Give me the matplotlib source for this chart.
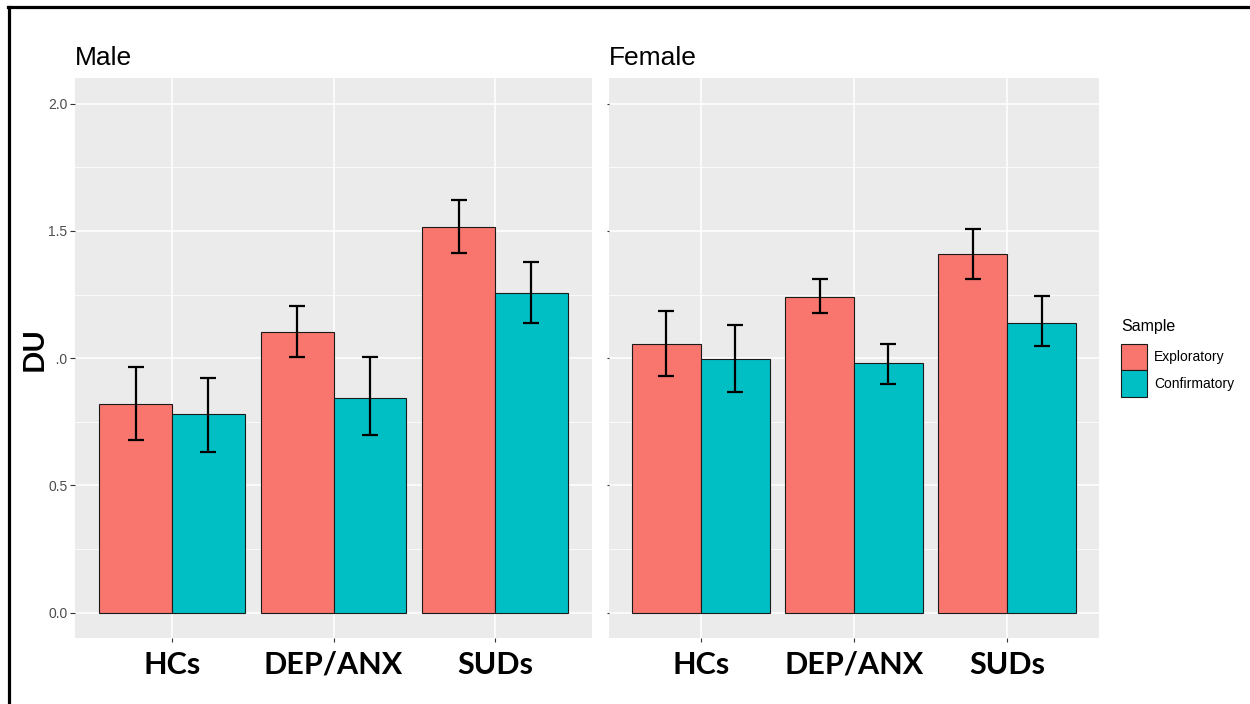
import numpy as np
import matplotlib
matplotlib.use('Agg')
import matplotlib.pyplot as plt
from matplotlib.patches import Patch
from matplotlib.lines import Line2D

# values (DU, mean with CI bounds)
categories = ['HCs', 'DEP/ANX', 'SUDs']

male_expl = [0.821, 1.102, 1.514]
male_expl_lo = [0.680, 1.004, 1.413]
male_expl_hi = [0.966, 1.204, 1.620]
male_conf = [0.779, 0.845, 1.256]
male_conf_lo = [0.633, 0.696, 1.137]
male_conf_hi = [0.923, 1.005, 1.379]

female_expl = [1.056, 1.241, 1.408]
female_expl_lo = [0.929, 1.178, 1.310]
female_expl_hi = [1.187, 1.310, 1.509]
female_conf = [0.998, 0.979, 1.140]
female_conf_lo = [0.868, 0.900, 1.048]
female_conf_hi = [1.129, 1.057, 1.243]

y_ticks = [0.0, 0.5, 1.0, 1.5, 2.0]
y_tick_labels = ['0.0', '0.5', '1.0', '1.5', '2.0']

EXPL_COLOR = '#F8766D'
CONF_COLOR = '#00BFC4'
PANEL_BG = '#EBEBEB'
EDGE = '#1a1a1a'

plt.rcParams['font.family'] = ['Liberation Sans', 'DejaVu Sans']

W, H = 1250, 704
fig = plt.figure(figsize=(W / 100, H / 100), dpi=100)
fig.patch.set_facecolor('white')

panel_bottom = 1 - 638 / H
panel_height = (638 - 78.3) / H
ax_m = fig.add_axes([75 / W, panel_bottom, 517 / W, panel_height])
ax_f = fig.add_axes([609 / W, panel_bottom, 490 / W, panel_height])


def draw_panel(ax, title, expl, expl_lo, expl_hi, conf, conf_lo, conf_hi,
               capsize, tick_len, show_ylabels):
    x = np.arange(1, len(categories) + 1)
    w = 0.45
    ax.set_facecolor(PANEL_BG)
    ax.bar(x - w / 2, expl, w, color=EXPL_COLOR, edgecolor=EDGE,
           linewidth=0.8, zorder=3)
    ax.bar(x + w / 2, conf, w, color=CONF_COLOR, edgecolor=EDGE,
           linewidth=0.8, zorder=3)
    # error bars from the CI bounds
    for xs, m, lo, hi in [(x - w / 2, expl, expl_lo, expl_hi),
                          (x + w / 2, conf, conf_lo, conf_hi)]:
        err = [np.subtract(m, lo), np.subtract(hi, m)]
        ax.errorbar(xs, m, yerr=err, fmt='none', ecolor='black',
                    elinewidth=1.6, capsize=capsize, capthick=1.6, zorder=4)

    ax.set_xlim(0.4, 3.6)
    ax.set_ylim(-0.1, 2.1)
    ax.set_xticks(x)
    ax.set_xticklabels(categories, fontfamily='Lato', fontweight='bold',
                       fontsize=22)
    ax.set_yticks(y_ticks)
    ax.set_yticks([0.25, 0.75, 1.25, 1.75], minor=True)
    if show_ylabels:
        ax.set_yticklabels(y_tick_labels, fontsize=10, color='#4D4D4D')
    else:
        ax.set_yticklabels([])

    ax.grid(which='major', color='white', linewidth=1.1)
    ax.grid(which='minor', axis='y', color='white', linewidth=0.55)
    ax.set_axisbelow(True)
    for s in ax.spines.values():
        s.set_visible(False)
    ax.tick_params(axis='x', length=3, width=0.8, color='#333333', pad=6)
    ax.tick_params(axis='y', which='major', length=tick_len, width=0.8,
                   color='#333333', pad=2)
    ax.tick_params(which='minor', length=0)

    ax.text(0, 1.024, title, transform=ax.transAxes, fontsize=19,
            ha='left', va='baseline')


draw_panel(ax_m, 'Male', male_expl, male_expl_lo, male_expl_hi,
           male_conf, male_conf_lo, male_conf_hi, 6, 3.5, True)
draw_panel(ax_f, 'Female', female_expl, female_expl_lo, female_expl_hi,
           female_conf, female_conf_lo, female_conf_hi, 5.5, 1.2, False)

# y axis title, drawn over the "1" of the 1.0 label like in the original
fig.text(35 / W, 1 - 349 / H, 'DU', rotation=90, fontfamily='Lato',
         fontweight='bold', fontsize=21, ha='center', va='center',
         bbox=dict(facecolor='white', edgecolor='none', pad=6))

handles = [Patch(facecolor=EXPL_COLOR, edgecolor=EDGE, linewidth=0.8,
                 label='Exploratory'),
           Patch(facecolor=CONF_COLOR, edgecolor=EDGE, linewidth=0.8,
                 label='Confirmatory')]
leg = fig.legend(handles=handles, title='Sample', loc='upper left',
                 bbox_to_anchor=(1121 / W, 1 - 319 / H), frameon=False,
                 fontsize=10, title_fontsize=11.5, handlelength=1.85,
                 handleheight=2.55, handletextpad=0.55, labelspacing=0.0,
                 borderpad=0, borderaxespad=0, alignment='left')
# a little room between the legend title and the keys
leg._legend_box.sep = 7

# black frame on top and left edges of the picture
fig.add_artist(Line2D([8 / W, 1], [1 - 6.5 / H, 1 - 6.5 / H],
                      color='black', linewidth=2.3))
fig.add_artist(Line2D([9 / W, 9 / W], [0, 1 - 6.5 / H],
                      color='black', linewidth=2.3))

fig.savefig('out.png', dpi=100)
